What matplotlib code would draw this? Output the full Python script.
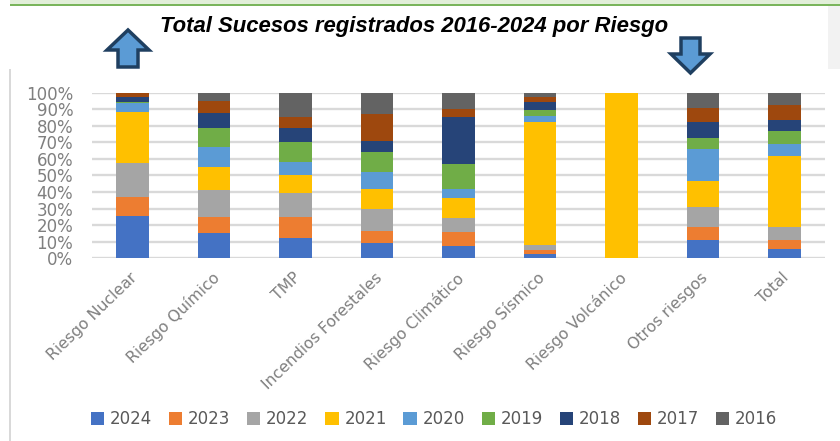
import numpy as np
from matplotlib import pyplot as plt
from matplotlib.patches import Polygon, Rectangle
from matplotlib.ticker import PercentFormatter
from matplotlib.transforms import ScaledTranslation

categories = ['Riesgo Nuclear', 'Riesgo Químico', 'TMP', 'Incendios Forestales', 'Riesgo Climático',
              'Riesgo Sísmico', 'Riesgo Volcánico', 'Otros riesgos', 'Total']
years = ['2024', '2023', '2022', '2021', '2020', '2019', '2018', '2017', '2016']
colors = ['#4472c4', '#ed7d31', '#a5a5a5', '#ffc000', '#5b9bd5', '#70ad47', '#264478', '#9e480e', '#636363']

# porcentaje de cada año por riesgo
v2024 = [25.6, 15.3, 12.5, 8.9, 7.6, 2.6, 0, 11.1, 5.8]
v2023 = [11.5, 9.7, 12.5, 7.4, 8.3, 2.2, 0, 8.0, 5.3]
v2022 = [20.4, 16.2, 14.5, 13.3, 8.4, 3.2, 0, 12.1, 8.0]
v2021 = [31.0, 13.9, 10.8, 12.3, 12.1, 74.5, 100, 15.7, 42.7]
v2020 = [5.5, 11.9, 8.1, 10.2, 5.2, 3.6, 0, 19.1, 7.0]
v2019 = [0.4, 11.5, 12.1, 12.1, 15.5, 3.4, 0, 6.8, 8.1]
v2018 = [2.8, 9.2, 8.2, 6.8, 28.4, 4.7, 0, 9.3, 6.8]
v2017 = [2.8, 7.5, 6.8, 16.3, 4.6, 3.0, 0, 8.6, 8.7]
v2016 = [0, 4.8, 14.5, 12.7, 9.9, 2.8, 0, 9.3, 7.6]
series = [v2024, v2023, v2022, v2021, v2020, v2019, v2018, v2017, v2016]

W, H = 840, 441
gray = '#7f7f7f'

fig = plt.figure(figsize=(W / 100, H / 100), dpi=100)
ax = fig.add_axes([92 / W, 1 - 258.2 / H, (825 - 92) / W, (258.2 - 92.7) / H])

x = np.arange(len(categories))
bottom = np.zeros(len(categories))
for year, vals, c in zip(years, series, colors):
    ax.bar(x, vals, 0.4, bottom=bottom, color=c, label=year, zorder=3)
    bottom += np.array(vals)

ax.set_xlim(-0.5, 8.5)
ax.set_ylim(0, 100)
ax.set_yticks(np.arange(0, 101, 10))
ax.yaxis.set_major_formatter(PercentFormatter(100, decimals=0))
ax.set_xticks(x)
ax.set_xticklabels(categories, rotation=44, ha='right', rotation_mode='anchor')
ax.tick_params(axis='both', length=0, labelcolor=gray)
ax.tick_params(axis='y', pad=13.5, labelsize=12)
ax.tick_params(axis='x', pad=9.5, labelsize=11.3)
for lab in ax.get_xticklabels():
    lab.set_transform(lab.get_transform() + ScaledTranslation(-2 / 72, 1 / 72, fig.dpi_scale_trans))
ax.grid(axis='y', color='#d9d9d9', lw=1.7, zorder=0)
ax.set_axisbelow(True)
for s in ax.spines.values():
    s.set_visible(False)

fig.legend(loc='center', bbox_to_anchor=(434 / W, 1 - 419 / H), ncol=9, frameon=False, fontsize=12,
           labelcolor='#595959', handlelength=0.8, handleheight=0.8, handletextpad=0.35,
           columnspacing=1.0, borderpad=0)

# capa en pixeles para el marco y las flechas
deco = fig.add_axes([0, 0, 1, 1], zorder=-1)
deco.set_xlim(0, W)
deco.set_ylim(H, 0)
deco.axis('off')
deco.add_patch(Rectangle((10, 0), W - 10, 4, color='#e2efd9', lw=0))
deco.add_patch(Rectangle((10, 4), W - 10, 2, color='#7ab55c', lw=0))
deco.add_patch(Rectangle((828, 6), 12, 63, color='#f2f2f2', lw=0))
deco.add_patch(Rectangle((9, 69), 2, H - 69, color='#d9d9d9', lw=0))

up = [(128, 30), (149, 50), (138, 50), (138, 67), (118, 67), (118, 50), (107, 50)]
down = [(681, 38), (700, 38), (700, 54), (710, 54), (690.5, 73), (671, 54), (681, 54)]
for pts in (up, down):
    deco.add_patch(Polygon(pts, closed=True, fc='#5b9bd5', ec='#1f3f60', lw=2.5))

fig.text(414 / W, 1 - 26.5 / H, 'Total Sucesos registrados 2016-2024 por Riesgo', ha='center', va='center',
         fontsize=15.9, fontweight='bold', fontstyle='italic', family='Liberation Sans', color='black')

fig.savefig('out.png', dpi=100)
